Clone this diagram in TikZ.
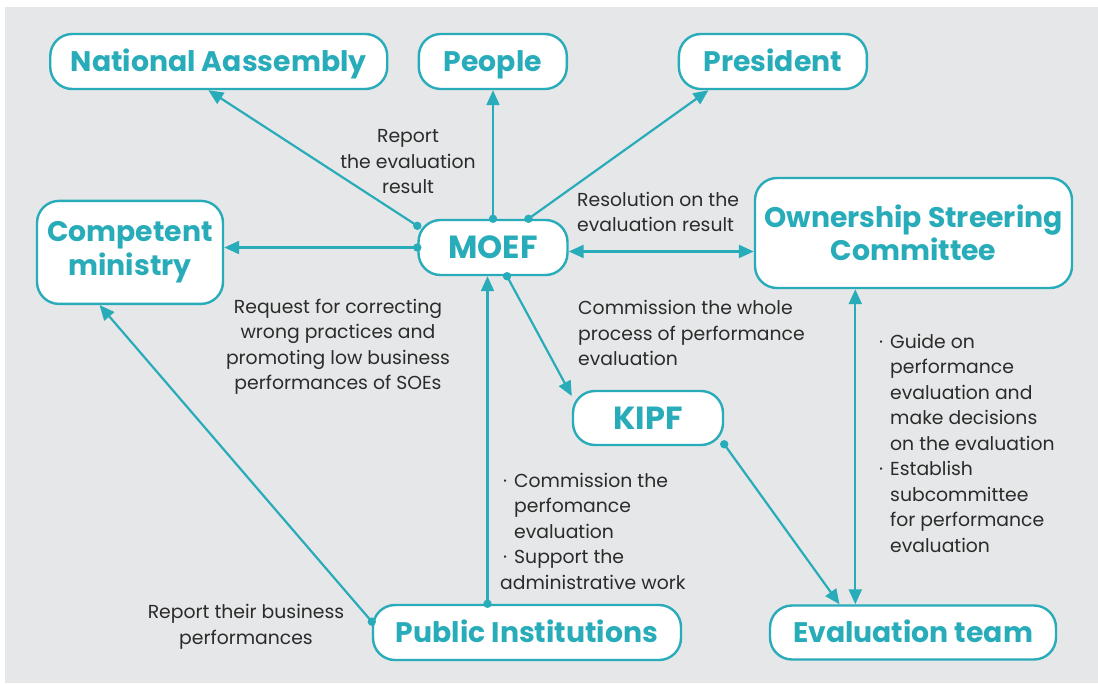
\documentclass[tikz,border=0pt]{standalone}
\usepackage{fontspec}
\setmainfont{Poppins}
\usetikzlibrary{arrows.meta}
\definecolor{teal}{HTML}{29ACB9}
\definecolor{bggray}{HTML}{E6E7E8}
\definecolor{txt}{HTML}{2B2B2B}
\newcommand{\bitem}{\makebox[14pt][l]{\hspace{3pt}·}}
\newcommand{\bind}{\hspace*{14pt}}

\begin{document}
\begin{tikzpicture}[x=1pt,y=-1pt,
    box/.style={draw=teal, line width=2.4pt, fill=white, rounded corners=22pt,
      text=teal, font=\fontsize{28.3}{33.5}\selectfont\bfseries, align=center,
      inner sep=0pt},
    title/.style={box, text height=19.8pt, text depth=0pt},
    bigtitle/.style={box, font=\fontsize{32}{36}\selectfont\bfseries, text height=22.4pt, text depth=0pt},
    lbl/.style={text=txt, font=\fontsize{18.8}{25.5}\selectfont, inner sep=0pt},
    link/.style={draw=teal, line width=2.2pt, -{Triangle[length=15pt,width=13pt]}},
    both/.style={draw=teal, line width=2.2pt, {Triangle[length=15pt,width=13pt]}-{Triangle[length=15pt,width=13pt]}},
    dot/.style={fill=teal, draw=none}]
  \useasboundingbox (0,0) rectangle (1098,683);
  \fill[bggray] (5,7) rectangle (1098,683);

  \node[title, minimum width=337pt, minimum height=55pt] (na) at (218.75,61.5) {National Aassembly};
  \node[title, minimum width=148pt, minimum height=55pt] (people) at (492.8,61.5) {People};
  \node[title, minimum width=188pt, minimum height=55pt] (pres) at (772.9,61.5) {President};
  \node[box, minimum width=186pt, minimum height=103pt] (comp) at (130,252.4) {Competent\\ministry};
  \node[bigtitle, minimum width=149pt, minimum height=55pt] (moef) at (493,247.5) {MOEF};
  \node[box, minimum width=317pt, minimum height=110pt] (osc) at (913.5,233) {Ownership Streering\\Committee};
  \node[bigtitle, minimum width=150pt, minimum height=54pt] (kipf) at (648,418) {KIPF};
  \node[title, minimum width=308pt, minimum height=55pt] (pi) at (527,632.5) {Public Institutions};
  \node[title, minimum width=286pt, minimum height=54pt] (evt) at (913,632.5) {Evaluation team};

  \draw[link] (moef.164) -- (na.-110);
  \draw[link] (moef.north) -- (moef.north |- people.south);
  \draw[link] (moef.39) -- (pres.-156);
  \draw[link] (moef.west) -- (moef.west -| comp.east);
  \draw[both] (moef.-3) -- (moef.-3 -| osc.west);
  \draw[link] (moef.-64) -- (kipf.164);
  \draw[link] (kipf.-19) -- (evt.159);
  \draw[both] (osc.-136) -- (osc.-136 |- evt.north);
  \draw[link] (pi.144) -- (pi.144 |- moef.south);
  \draw[link] (pi.176) -- (comp.-120);
  \foreach \p in {moef.164, moef.north, moef.39, moef.west, moef.-64, kipf.-19, pi.144, pi.176}
    \fill[dot] (\p) circle (4.2pt);

  \node[lbl, align=center] (lreport) at (408,162) {Report\\the evaluation\\result};
  \node[lbl, align=left, anchor=west] (lres) at (577,212) {Resolution on the\\evaluation result};
  \node[lbl, align=center] (lreq) at (338,347) {Request for correcting\\wrong practices and\\promoting low business\\performances of SOEs};
  \node[lbl, align=left, anchor=west] (lcomm) at (578,333) {Commission the whole\\process of performance\\evaluation};
  \node[lbl, align=left, anchor=west] (lpi) at (500,531) {\bitem Commission the\\\bind perfomance\\\bind evaluation\\\bitem Support the\\administrative work};
  \node[lbl, align=left, anchor=west] (losc) at (876,443.4) {\bitem Guide on\\\bind performance\\\bind evaluation and\\\bind make decisions\\\bind on the evaluation\\\bitem Establish\\\bind subcommittee\\\bind for performance\\\bind evaluation};
  \node[lbl, align=center] (lrep) at (246,627) {Report their business\\performances};
\end{tikzpicture}
\end{document}
